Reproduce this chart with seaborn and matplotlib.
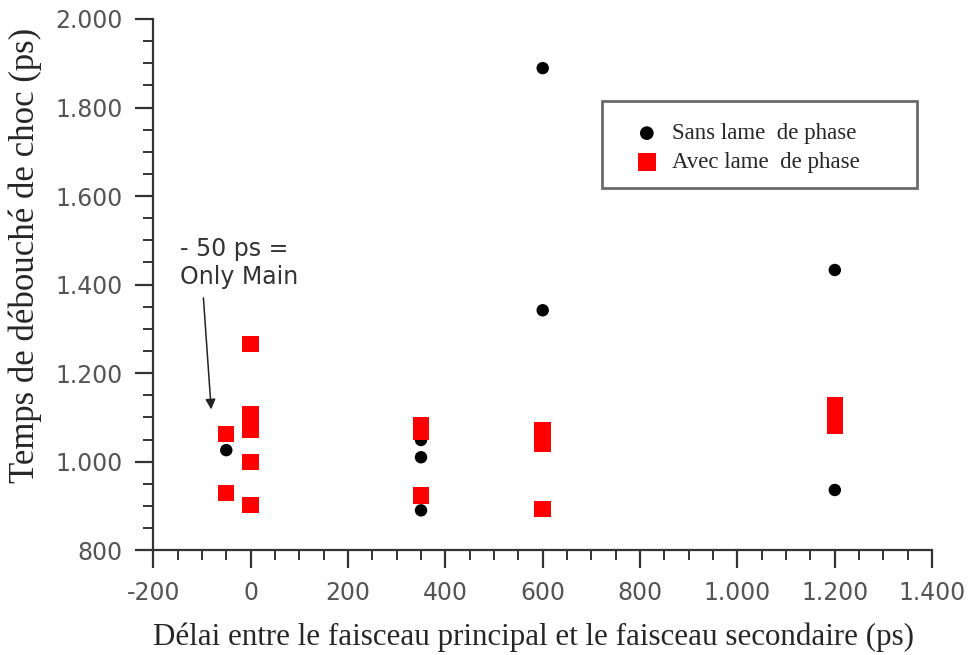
#Importing Modules
import pandas as pd
import numpy as np
import seaborn as sns
import matplotlib.pyplot as plt
from matplotlib.ticker import FuncFormatter, MultipleLocator
from matplotlib.patches import Rectangle


#Data
delai_sans = [-50, 350, 350, 350, 600, 600, 1200, 1200]
temps_sans = [1026, 1049, 1010, 890, 1889, 1342, 1433, 936]

delai_avec = [-50, -50, 0, 0, 0, 0, 0, 0, 350, 350, 350, 600, 600, 600, 600, 1200, 1200, 1200]
temps_avec = [1062, 929, 1266, 1107, 1089, 1071, 999, 902, 1082, 1067, 924, 1071, 1055, 1040, 893, 1128, 1114, 1082]

labels = ["Sans lame  de phase", "Avec lame  de phase"]

df_sans = pd.DataFrame({"delai": delai_sans, "temps": temps_sans})
df_avec = pd.DataFrame({"delai": delai_avec, "temps": temps_avec})


#Plot
sns.set_style("ticks")
plt.rcParams['font.family'] = ['DejaVu Sans']
fig = plt.figure(figsize=(9.7, 6.55), dpi=100)
ax = fig.add_axes([0.158, 0.160, 0.803, 0.811])

sns.scatterplot(data=df_sans, x="delai", y="temps", ax=ax, color="black", marker="o",
                s=80, edgecolor="none", label=labels[0], zorder=2)
sns.scatterplot(data=df_avec, x="delai", y="temps", ax=ax, color="#ff0000", marker="s",
                s=140, edgecolor="none", label=labels[1], zorder=3)

ax.set_xlim(-200, 1400)
ax.set_ylim(800, 2000)
ax.xaxis.set_major_locator(MultipleLocator(200))
ax.xaxis.set_minor_locator(MultipleLocator(50))
ax.yaxis.set_major_locator(MultipleLocator(200))
ax.yaxis.set_minor_locator(MultipleLocator(50))
fmt = FuncFormatter(lambda v, p: f"{v:,.0f}".replace(",", "."))
ax.xaxis.set_major_formatter(fmt)
ax.yaxis.set_major_formatter(fmt)

for s in ["top", "right"]:
    ax.spines[s].set_visible(False)
for s in ["left", "bottom"]:
    ax.spines[s].set_color("#333333")
    ax.spines[s].set_linewidth(1.6)
ax.tick_params(which="major", length=13, width=1.6, color="#333333",
               labelsize=17, labelcolor="#555555", pad=9)
ax.tick_params(which="minor", length=7.5, width=1.4, color="#333333")

ax.set_xlabel("Délai entre le faisceau principal et le faisceau secondaire (ps)",
              family="Liberation Serif", fontsize=22.3, va="top")
ax.xaxis.set_label_coords(0.488, -0.137)
ax.set_ylabel("Temps de débouché de choc (ps)",
              family="Liberation Serif", fontsize=25)
ax.yaxis.set_label_coords(-0.143, 0.554)

#annotation
ax.text(-145, 1508, "- 50 ps =\nOnly Main", fontsize=17, color="#333333",
        va="top", ha="left", linespacing=1.2)
ax.annotate("", xy=(-81, 1118), xytext=(-97, 1370),
            arrowprops=dict(arrowstyle="-|>", color="#222222", lw=1.1,
                            mutation_scale=15, shrinkA=0, shrinkB=0))

#legend with its own box
ax.add_patch(Rectangle((0.576, 0.682), 0.404, 0.164, transform=ax.transAxes,
                       fill=False, edgecolor="#6a6a6a", lw=2, zorder=4, clip_on=False))
leg = ax.legend(loc="upper left", bbox_to_anchor=(0.616, 0.804), frameon=False,
                prop={"family": "Liberation Serif", "size": 16.5},
                borderpad=0, handlelength=1.2, handletextpad=0.5, labelspacing=0.35,
                borderaxespad=0, markerscale=1.1)

plt.savefig("out.png", dpi=100)
